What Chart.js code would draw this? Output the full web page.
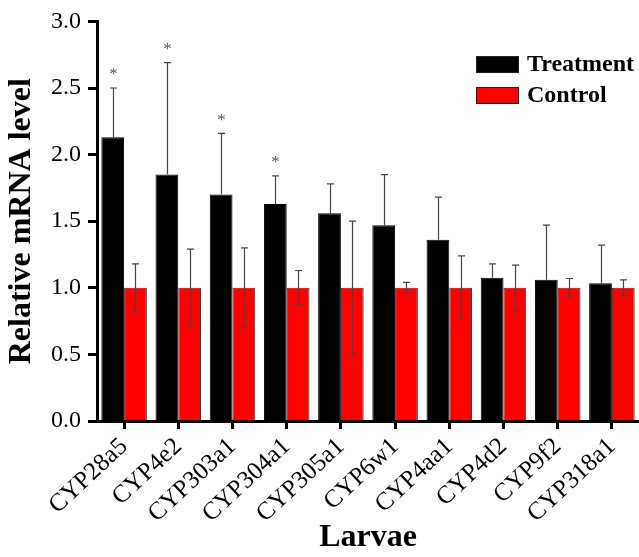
<!DOCTYPE html>
<html>
<head>
<meta charset="utf-8">
<script src="https://cdn.jsdelivr.net/npm/chart.js@4"></script>
<style>
  body { margin: 0; background: #fff; }
  #wrap { width: 639px; height: 557px; position: relative; }
</style>
</head>
<body>
<div id="wrap"><canvas id="wykres"></canvas></div>
<script>
const labels = ['CYP28a5', 'CYP4e2', 'CYP303a1', 'CYP304a1', 'CYP305a1', 'CYP6w1', 'CYP4aa1', 'CYP4d2', 'CYP9f2', 'CYP318a1'];
const treatment = [2.13, 1.85, 1.70, 1.63, 1.56, 1.47, 1.36, 1.075, 1.06, 1.035];
const treatmentErr = [0.37, 0.84, 0.46, 0.21, 0.22, 0.38, 0.32, 0.105, 0.41, 0.285];
const control = [1, 1, 1, 1, 1, 1, 1, 1, 1, 1];
const controlErr = [0.18, 0.29, 0.30, 0.13, 0.50, 0.04, 0.24, 0.17, 0.07, 0.06];
const marks = ['*', '*', '*', '*', '', '', '', '', '', ''];
const yTicks = [0, 0.5, 1.0, 1.5, 2.0, 2.5, 3.0];

const serif = '"Liberation Serif", "Times New Roman", serif';

// slupki bledow, gwiazdki i legenda
const dodatki = {
  id: 'dodatki',
  afterDatasetsDraw(chart) {
    const ctx = chart.ctx;
    const y = chart.scales.y;
    const bledy = [treatmentErr, controlErr];
    ctx.save();
    ctx.strokeStyle = '#444';
    ctx.lineWidth = 1.2;
    chart.data.datasets.forEach((ds, i) => {
      const meta = chart.getDatasetMeta(i);
      meta.data.forEach((bar, j) => {
        const v = ds.data[j];
        const e = bledy[i][j];
        const top = y.getPixelForValue(v + e);
        const bot = i === 0 ? y.getPixelForValue(v) : y.getPixelForValue(v - e);
        const x = Math.round(bar.x) + 0.5;
        ctx.beginPath();
        ctx.moveTo(x, top);
        ctx.lineTo(x, bot);
        ctx.moveTo(x - 3.5, top);
        ctx.lineTo(x + 3.5, top);
        if (i === 1) {
          ctx.moveTo(x - 3.5, bot);
          ctx.lineTo(x + 3.5, bot);
        }
        ctx.stroke();
        if (i === 0 && marks[j]) {
          ctx.fillStyle = '#555';
          ctx.font = '17px ' + serif;
          ctx.textAlign = 'center';
          ctx.textBaseline = 'middle';
          ctx.fillText(marks[j], x, top - 13);
        }
      });
    });
    ctx.restore();
  },
  afterDraw(chart) {
    const ctx = chart.ctx;
    ctx.save();
    chart.data.datasets.forEach((ds, i) => {
      const bx = 476, by = 56 + i * 31;
      ctx.fillStyle = ds.backgroundColor;
      ctx.fillRect(bx, by, 43, 17);
      ctx.strokeStyle = '#222';
      ctx.lineWidth = 1;
      ctx.strokeRect(bx + 0.5, by + 0.5, 42, 16);
      ctx.fillStyle = '#000';
      ctx.font = 'bold 24px ' + serif;
      ctx.textAlign = 'left';
      ctx.textBaseline = 'middle';
      ctx.fillText(ds.label, 527, by + 9);
    });
    ctx.restore();
  }
};

new Chart(document.getElementById('wykres'), {
  type: 'bar',
  data: {
    labels,
    datasets: [
      {
        label: 'Treatment',
        data: treatment,
        backgroundColor: '#000000',
        borderColor: '#000000',
        borderWidth: 1,
        categoryPercentage: 0.84,
        barPercentage: 1.0
      },
      {
        label: 'Control',
        data: control,
        backgroundColor: '#ff0000',
        borderColor: '#333333',
        borderWidth: 1,
        categoryPercentage: 0.84,
        barPercentage: 1.0
      }
    ]
  },
  options: {
    responsive: true,
    maintainAspectRatio: false,
    animation: false,
    layout: { padding: { top: 20, right: 0, left: 0, bottom: 0 } },
    plugins: {
      legend: { display: false },
      tooltip: { enabled: false }
    },
    scales: {
      x: {
        afterFit: s => { s.height = 136; },
        border: { display: true, color: '#000', width: 3 },
        grid: {
          display: true,
          offset: false,
          drawOnChartArea: false,
          drawTicks: true,
          tickLength: 8,
          tickWidth: 3,
          tickColor: '#000'
        },
        ticks: {
          autoSkip: false,
          minRotation: 43,
          maxRotation: 43,
          padding: 3,
          color: '#000',
          font: { family: serif, size: 25 }
        },
        title: {
          display: true,
          text: 'Larvae',
          color: '#000',
          font: { family: serif, size: 32, weight: 'bold' },
          padding: { top: 0, bottom: 0 }
        }
      },
      y: {
        min: 0,
        max: 3,
        afterFit: s => { s.width = 97; },
        afterBuildTicks: s => { s.ticks = yTicks.map(v => ({ value: v })); },
        border: { display: true, color: '#000', width: 3 },
        grid: {
          display: true,
          drawOnChartArea: false,
          drawTicks: true,
          tickLength: 9,
          tickWidth: 3,
          tickColor: '#000'
        },
        ticks: {
          padding: 7,
          color: '#000',
          font: { family: serif, size: 24 },
          callback: v => Number(v).toFixed(1)
        },
        title: {
          display: true,
          text: 'Relative mRNA level',
          color: '#000',
          font: { family: serif, size: 32, weight: 'bold' },
          padding: { top: 3, bottom: 0 }
        }
      }
    }
  },
  plugins: [dodatki]
});
</script>
</body>
</html>
